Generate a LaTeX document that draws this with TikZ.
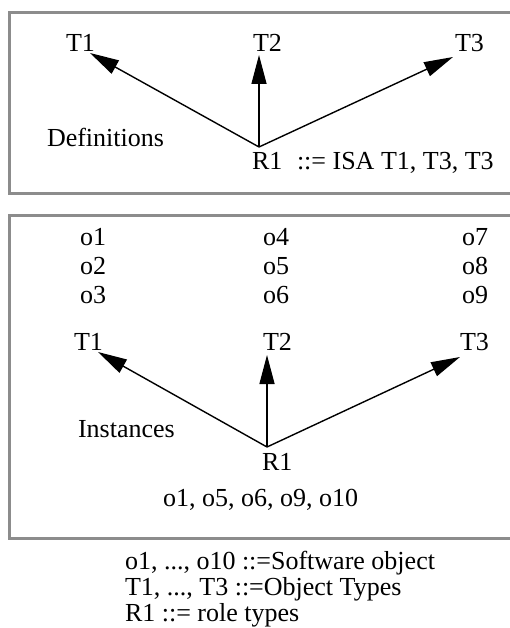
\documentclass[tikz,border=0pt]{standalone}
\usepackage{fontspec}
\setmainfont{Liberation Serif}
\usetikzlibrary{arrows.meta}
\definecolor{framegray}{HTML}{8C8C8C}
\tikzset{
  lbl/.style={anchor=base west, inner sep=0pt, outer sep=0pt,
    font=\fontsize{26}{31}\selectfont},
  frame/.style={draw=framegray, line width=3pt},
  isa/.style={line width=1.4pt, -{Triangle[length=29pt,width=15pt]}},
}
\begin{document}
\begin{tikzpicture}[x=1pt, y=-1pt]
\useasboundingbox (0,0) rectangle (509,628);
\fill[white] (0,0) rectangle (509,628);

% ---- Definitions panel ----
\draw[frame] (9,13) rectangle (520,194);
\node[lbl] (dT1) at (66,52) {T1};
\node[lbl] (dT2) at (253,52) {T2};
\node[lbl] (dT3) at (455,52) {T3};
\node[lbl] (dDef) at (47,147) {Definitions};
\node[lbl] (dR1) at (252,170) {R1};
\node[lbl] (dIsa) at (297,170) {::= ISA T1, T3, T3};
\coordinate (dR1top) at (259,147);
\coordinate (dT1tip) at (90,53);
\coordinate (dT2tip) at (259,55);
\coordinate (dT3tip) at (453,57);
\draw[isa] (dR1top) -- (dT1tip);
\draw[isa] (dR1top) -- (dT2tip);
\draw[isa] (dR1top) -- (dT3tip);

% ---- Instances panel ----
\draw[frame] (9,215) rectangle (520,538);
\node[lbl] (o1) at (80,245) {o1};
\node[lbl] (o2) at (80,274) {o2};
\node[lbl] (o3) at (80,303) {o3};
\node[lbl] (o4) at (263,245) {o4};
\node[lbl] (o5) at (263,274) {o5};
\node[lbl] (o6) at (263,303) {o6};
\node[lbl] (o7) at (462,245) {o7};
\node[lbl] (o8) at (462,274) {o8};
\node[lbl] (o9) at (462,303) {o9};
\node[lbl] (iT1) at (74,350) {T1};
\node[lbl] (iT2) at (263,350) {T2};
\node[lbl] (iT3) at (460,350) {T3};
\node[lbl] (iInst) at (78,437) {Instances};
\node[lbl] (iR1) at (262,470) {R1};
\node[lbl] (iObjs) at (163,506) {o1, o5, o6, o9, o10};
\coordinate (iR1top) at (267,447);
\coordinate (iT1tip) at (98,352);
\coordinate (iT2tip) at (267,355);
\coordinate (iT3tip) at (460,357);
\draw[isa] (iR1top) -- (iT1tip);
\draw[isa] (iR1top) -- (iT2tip);
\draw[isa] (iR1top) -- (iT3tip);

% ---- Legend ----
\node[lbl] (leg1) at (125,569) {o1, ..., o10 ::=Software object};
\node[lbl] (leg2) at (125,595) {T1, ..., T3 ::=Object Types};
\node[lbl] (leg3) at (125,621) {R1 ::= role types};
\end{tikzpicture}
\end{document}
